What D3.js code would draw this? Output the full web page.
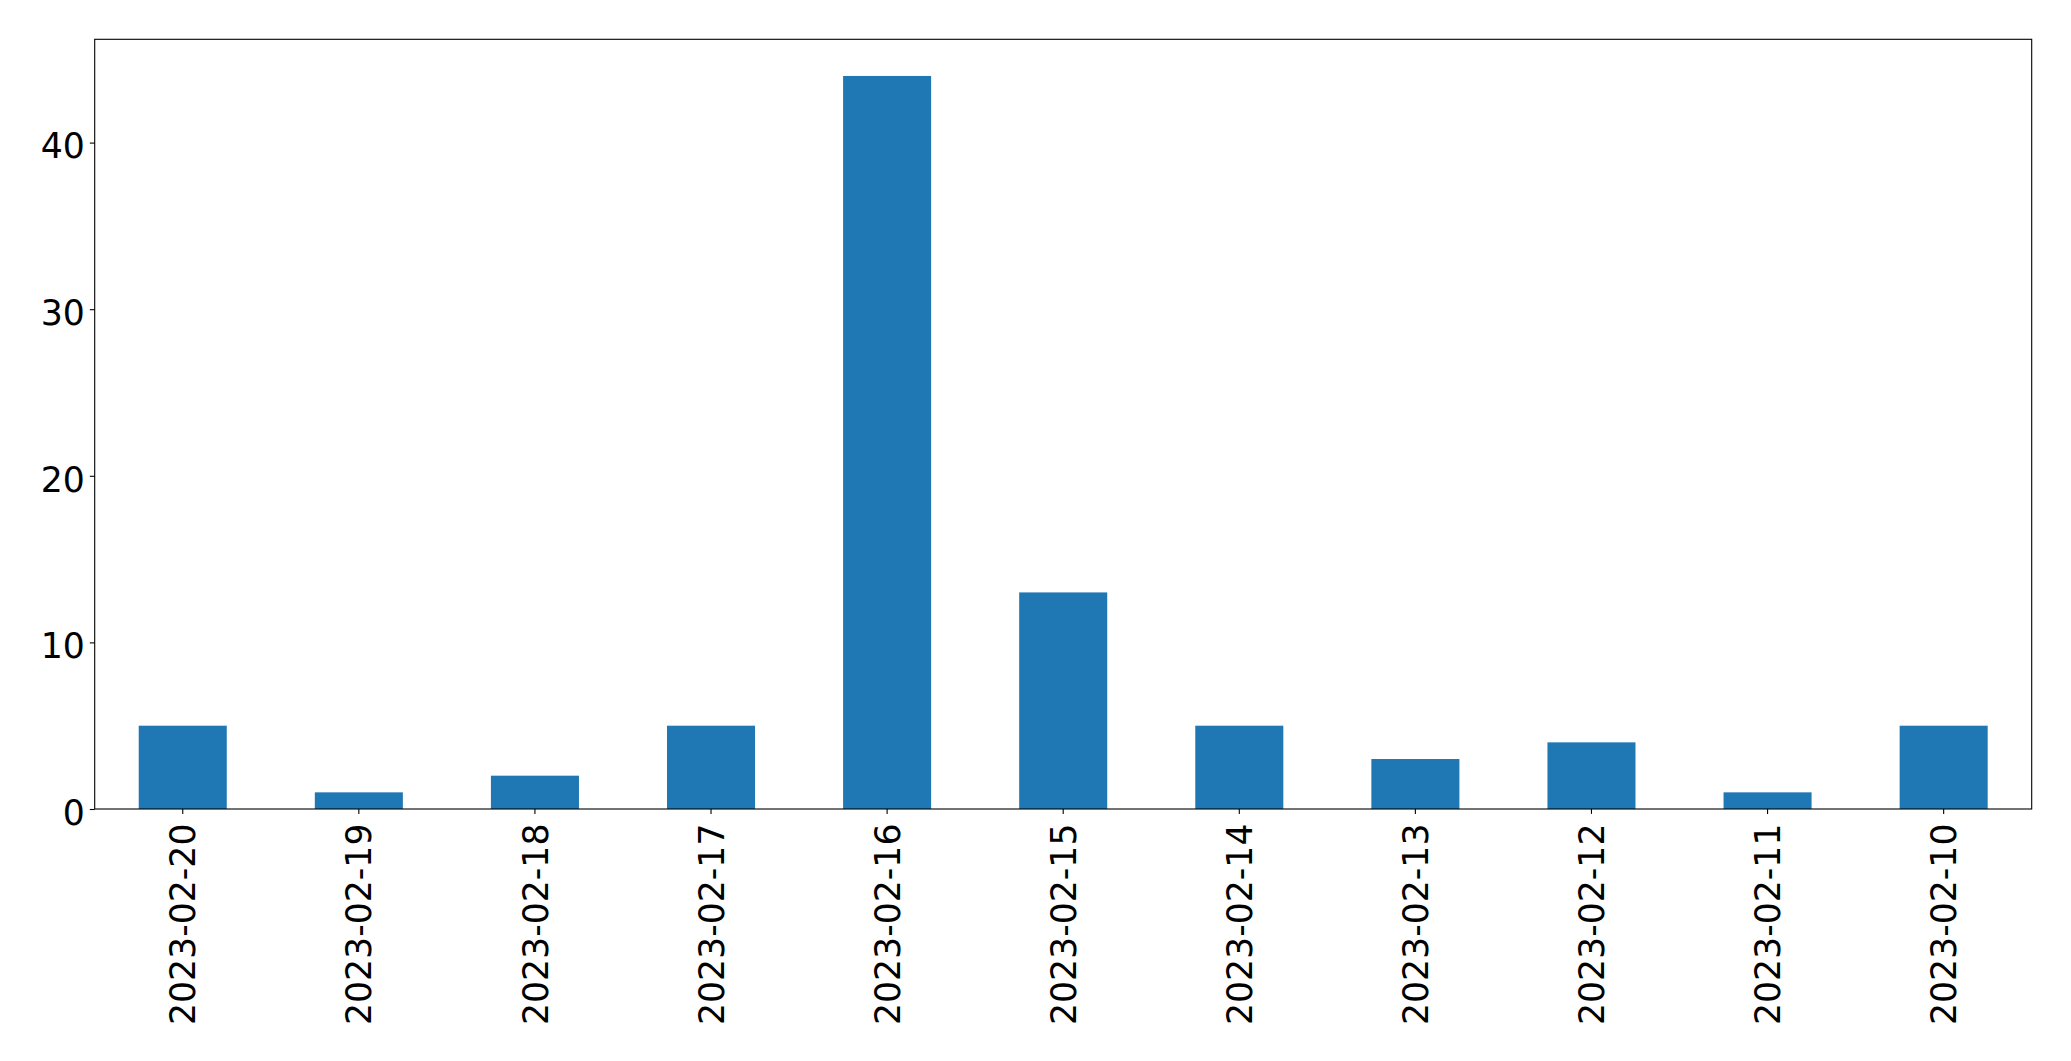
<!DOCTYPE html>
<html><head><meta charset="utf-8">
<script src="https://cdn.jsdelivr.net/npm/d3@7"></script>
<style>html,body{margin:0;padding:0;background:#fff;overflow:hidden}</style>
</head><body>
<script>
const categories = ["2023-02-20","2023-02-19","2023-02-18","2023-02-17","2023-02-16","2023-02-15","2023-02-14","2023-02-13","2023-02-12","2023-02-11","2023-02-10"];
const values = [5,1,2,5,44,13,5,3,4,1,5];
const yTicks = [0,10,20,30,40];

(function () {
const W = 2071, H = 1061;
const mLeft = 94.7, mRight = 2031.7, mTop = 39.3, mBottom = 809;
const fontSize = 34.7;

const svg = d3.select("body").append("svg").attr("width", W).attr("height", H)
  .style("font-family", "'DejaVu Sans'");

const x = d3.scaleBand().domain(categories).range([mLeft, mRight]).paddingInner(0.5).paddingOuter(0.25);
const y = d3.scaleLinear().domain([0, d3.max(values) * 1.05]).range([mBottom, mTop]);

svg.append("g").selectAll("rect").data(values).join("rect")
  .attr("x", (d, i) => x(categories[i]))
  .attr("width", x.bandwidth())
  .attr("y", d => y(d))
  .attr("height", d => y(0) - y(d))
  .attr("fill", "#1f77b4");

const ya = svg.append("g").attr("transform", `translate(${mLeft},0)`)
  .call(d3.axisLeft(y).tickValues(yTicks).tickFormat(d3.format("d")).tickSize(4.9).tickPadding(4.9));
ya.select(".domain").remove();
ya.selectAll(".tick line").attr("stroke", "#000").attr("stroke-width", 1.1);
ya.selectAll(".tick text").attr("font-size", fontSize).attr("fill", "#000")
  .attr("font-family", "'DejaVu Sans'").attr("dy", "0.44em");

const xa = svg.append("g").attr("transform", `translate(0,${mBottom})`)
  .call(d3.axisBottom(x).tickSize(4.9).tickPadding(0));
xa.select(".domain").remove();
xa.selectAll(".tick line").attr("stroke", "#000").attr("stroke-width", 1.1);
xa.selectAll(".tick text").attr("font-size", fontSize).attr("fill", "#000")
  .attr("font-family", "'DejaVu Sans'")
  .attr("text-anchor", "end")
  .attr("transform", "translate(0,14.5) rotate(-90)")
  .attr("x", 0).attr("y", 0).attr("dy", "0.364em");

svg.append("rect").attr("x", mLeft).attr("y", mTop).attr("width", mRight - mLeft).attr("height", mBottom - mTop)
  .attr("fill", "none").attr("stroke", "#000").attr("stroke-width", 1.1);
})();
</script>
</body></html>
